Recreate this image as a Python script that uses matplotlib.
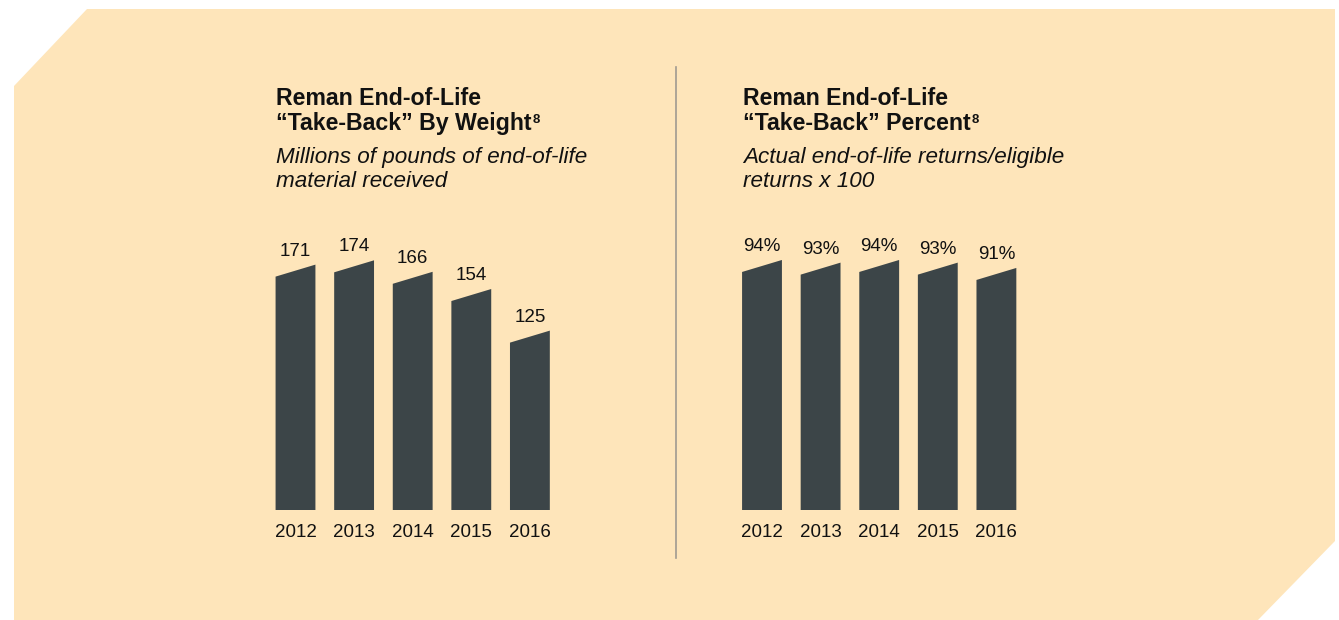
import matplotlib.pyplot as plt
from matplotlib.patches import Polygon
from matplotlib.lines import Line2D

# Data
years = ["2012", "2013", "2014", "2015", "2016"]
weight = [171, 174, 166, 154, 125]          # millions of pounds
percent = [94, 93, 94, 93, 91]              # take-back %

W, H = 1339, 620
BG = "#FEE5BA"
BAR = "#3C4548"
SANS = ["Liberation Sans", "DejaVu Sans"]

fig = plt.figure(figsize=(W / 100, H / 100), dpi=100)


def fx(x):
    return x / W


def fy(y):
    return 1 - y / H


# background shape with cut corners
bg_pts = [(14, 86), (87, 9), (1335, 9), (1335, 541), (1258, 620), (14, 620)]
fig.patches.append(Polygon([(fx(x), fy(y)) for x, y in bg_pts], closed=True,
                           transform=fig.transFigure, facecolor=BG,
                           edgecolor="none", zorder=-5))

# divider
fig.add_artist(Line2D([fx(676), fx(676)], [fy(67), fy(558)],
                      transform=fig.transFigure, color="#A09A90", lw=1.2))


def panel(left_px, values, ymax, labels, slant_px=12):
    # axes: index -0.5..4.5 spans 293 px, baseline at y=510 px
    width_px = 58.6 * 5
    height_px = 510 - 200
    ax = fig.add_axes([fx(left_px), fy(510), width_px / W, height_px / H])
    ax.set_xlim(-0.5, 4.5)
    ax.set_ylim(0, ymax)
    ax.axis("off")
    px_per_unit = height_px / ymax
    slant = slant_px / px_per_unit
    bw = 0.68
    for i, (v, lab) in enumerate(zip(values, labels)):
        xs = [i - bw / 2, i + bw / 2, i + bw / 2, i - bw / 2]
        ys = [0, 0, v, v - slant]
        ax.fill(xs, ys, color=BAR, lw=0)
        ax.text(i, v + 9 / px_per_unit, lab, ha="center", va="baseline",
                fontsize=13.5, family=SANS, color="#111111", clip_on=False)
        ax.text(i, -27 / px_per_unit, years[i], ha="center", va="baseline",
                fontsize=13.5, family=SANS, color="#111111", clip_on=False)
    return ax


panel(266.2, weight, 310 / 1.435, [str(v) for v in weight])
panel(732.7, percent, 310 / 2.66, [f"{v}%" for v in percent])

renderer = fig.canvas.get_renderer()


def titles(x, line2, sub1, sub2):
    fig.text(fx(x), fy(105), "Reman End-of-Life", ha="left", va="baseline",
             fontsize=16.7, fontweight="bold", family=SANS, color="#111111")
    t2 = fig.text(fx(x), fy(130), line2, ha="left", va="baseline",
                  fontsize=16.7, fontweight="bold", family=SANS, color="#111111")
    ext = t2.get_window_extent(renderer)
    # footnote marker, top aligned with capitals
    fig.text(ext.x1 / W + fx(1), fy(114), "8", ha="left", va="top",
             fontsize=9.5, fontweight="bold", family=SANS, color="#111111")
    fig.text(fx(x), fy(163), sub1, ha="left", va="baseline",
             fontsize=16.2, style="italic", family=SANS, color="#111111")
    fig.text(fx(x), fy(187), sub2, ha="left", va="baseline",
             fontsize=16.2, style="italic", family=SANS, color="#111111")


titles(276, "\u201cTake-Back\u201d By Weight",
       "Millions of pounds of end-of-life", "material received")
titles(743, "\u201cTake-Back\u201d Percent",
       "Actual end-of-life returns/eligible", "returns x 100")

fig.savefig("out.png", dpi=100, facecolor="white")
